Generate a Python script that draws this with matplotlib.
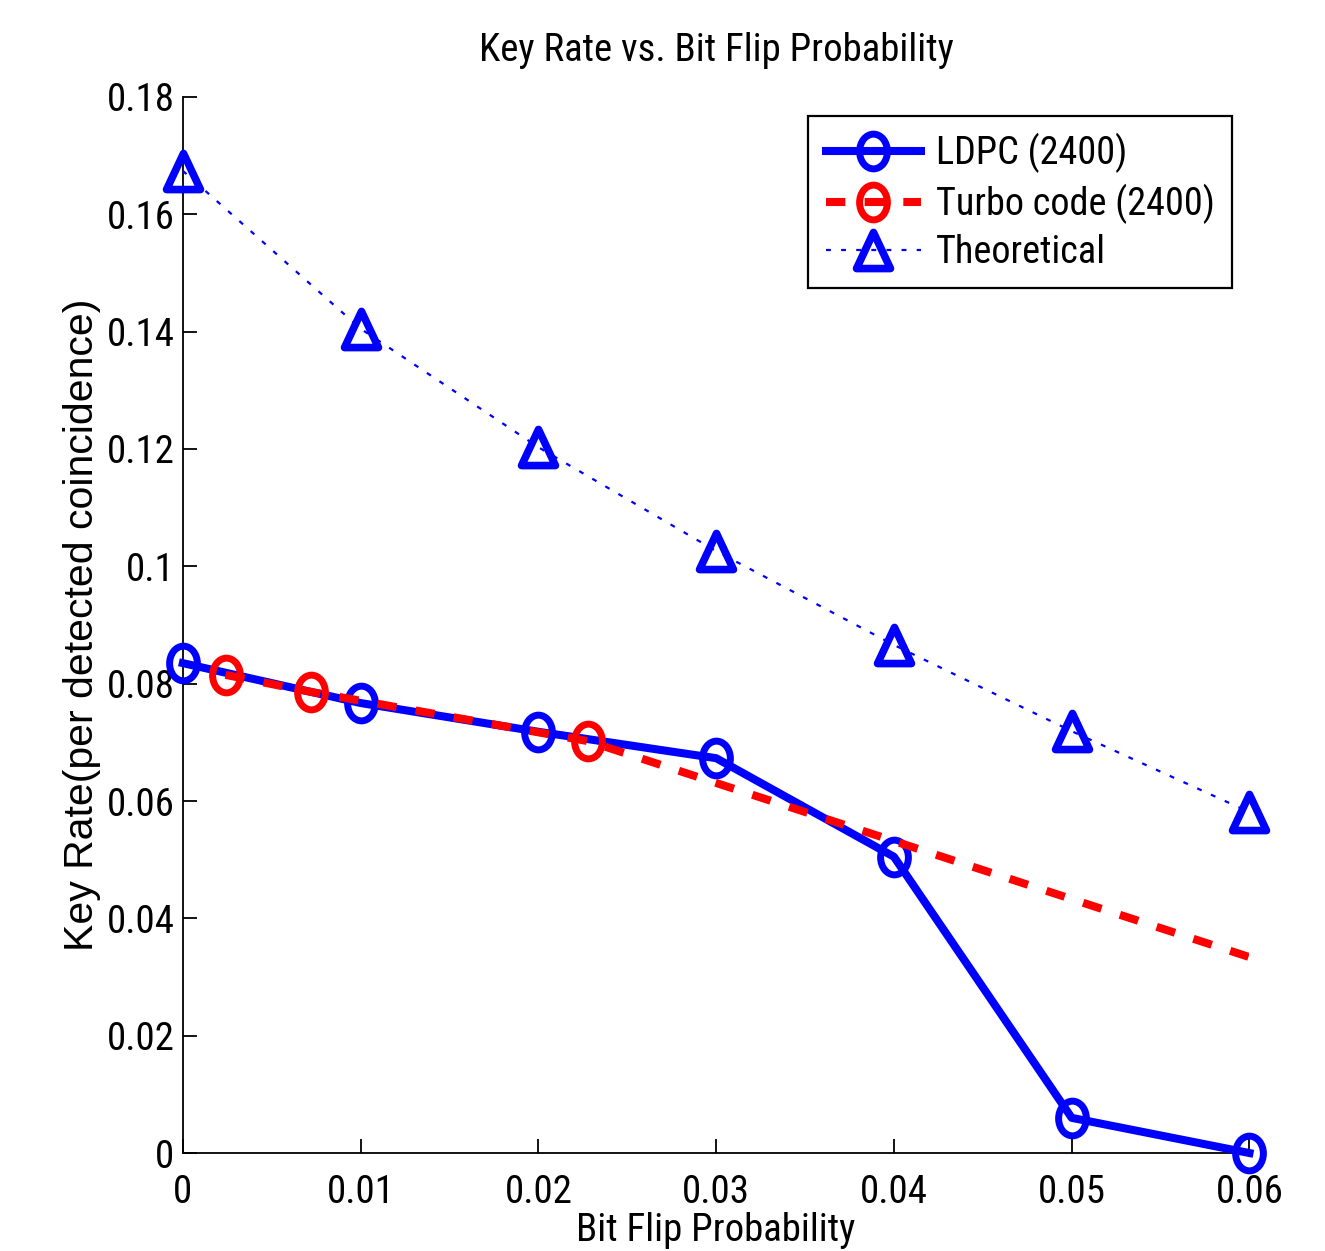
import numpy as np
import matplotlib
matplotlib.use('Agg')
import matplotlib.pyplot as plt
from matplotlib.path import Path
from matplotlib import font_manager

# data
p_ldpc = [0, 0.01, 0.02, 0.03, 0.04, 0.05, 0.06]
rate_ldpc = [0.0835, 0.0767, 0.0718, 0.0673, 0.0505, 0.0060, 0.0]

p_turbo = [0.0024, 0.0072, 0.0228, 0.07]
rate_turbo = [0.0815, 0.0786, 0.0702, 0.0235]

p_theory = [0, 0.01, 0.02, 0.03, 0.04, 0.05, 0.06]
rate_theory = [0.1674, 0.1405, 0.1203, 0.1026, 0.0866, 0.0719, 0.0581]

x_ticks = [0, 0.01, 0.02, 0.03, 0.04, 0.05, 0.06]
x_tick_labels = ['0', '0.01', '0.02', '0.03', '0.04', '0.05', '0.06']
y_ticks = [0, 0.02, 0.04, 0.06, 0.08, 0.1, 0.12, 0.14, 0.16, 0.18]
y_tick_labels = ['0', '0.02', '0.04', '0.06', '0.08', '0.1', '0.12', '0.14', '0.16', '0.18']

# look for a narrow sans face, the text in the picture is squeezed sideways
fonts = font_manager.fontManager.ttflist
narrow_family, narrow_stretch = 'Liberation Sans', 'normal'
for fam in ['Liberation Sans Narrow', 'Arial Narrow', 'Roboto Condensed',
            'Open Sans Condensed', 'Noto Sans Condensed']:
    if any(f.name == fam for f in fonts):
        narrow_family = fam
        break
else:
    for fam in ['Liberation Sans', 'Noto Sans', 'Open Sans', 'Roboto', 'DejaVu Sans']:
        if any(f.name == fam and f.stretch in ('condensed', 'semi-condensed')
               for f in fonts):
            narrow_family, narrow_stretch = fam, 'condensed'
            break
txt = dict(family=[narrow_family, 'DejaVu Sans'], stretch=narrow_stretch, size=28)

# stretched markers
circ = Path.unit_circle()
ellipse = Path(circ.vertices * np.array([0.8, 1.0]), circ.codes)
tri = Path([(0, 0.5), (-0.47, -0.5), (0.47, -0.5), (0, 0.5)],
           [Path.MOVETO, Path.LINETO, Path.LINETO, Path.CLOSEPOLY])

fig = plt.figure(figsize=(13.25, 12.51), dpi=100)
ax = fig.add_axes([0.138, 0.0783, 0.805, 0.8442])

ax.plot(p_ldpc, rate_ldpc, color='blue', linewidth=5.8, marker=ellipse,
        markersize=25, markerfacecolor='none', markeredgewidth=5,
        label='LDPC (2400)', zorder=3, clip_on=False)
ax.plot(p_turbo, rate_turbo, color='red', linewidth=5.8, dashes=(2.4, 2.4),
        marker=ellipse, markersize=25, markerfacecolor='none', markeredgewidth=5,
        label='Turbo code (2400)', zorder=4)
ax.plot(p_theory, rate_theory, color='blue', linewidth=1.6, dashes=(2.2, 4.6),
        marker=tri, markersize=26, markerfacecolor='none', markeredgewidth=5.5,
        label='Theoretical', zorder=3, clip_on=False)

ax.set_xlim(0, 0.06)
ax.set_ylim(0, 0.18)
ax.set_xticks(x_ticks)
ax.set_xticklabels(x_tick_labels, **txt)
ax.set_yticks(y_ticks)
ax.set_yticklabels(y_tick_labels, **txt)
ax.tick_params(direction='in', length=10, width=1.3)
ax.tick_params(axis='x', pad=15)
ax.tick_params(axis='y', pad=6)

ax.spines['top'].set_visible(False)
ax.spines['right'].set_visible(False)
ax.spines['left'].set_linewidth(1.3)
ax.spines['bottom'].set_linewidth(1.3)
for s in ax.spines.values():
    s.set_zorder(1)

ax.set_title('Key Rate vs. Bit Flip Probability', pad=26, **txt)
ax.set_xlabel('Bit Flip Probability', labelpad=1, **txt)
ax.set_ylabel('Key Rate(per detected coincidence)', family='Liberation Sans',
              fontsize=29.5, labelpad=4)

leg = ax.legend(loc='upper right', bbox_to_anchor=(0.984, 0.982), borderaxespad=0,
                numpoints=1, handlelength=2.5, handletextpad=0.4, labelspacing=0.27,
                borderpad=0.45, fancybox=False, framealpha=1,
                prop={'family': [narrow_family, 'DejaVu Sans'],
                      'stretch': narrow_stretch, 'size': 27.5})
leg.get_frame().set_edgecolor('black')
leg.get_frame().set_linewidth(1.6)

plt.savefig('out.png', dpi=100)
